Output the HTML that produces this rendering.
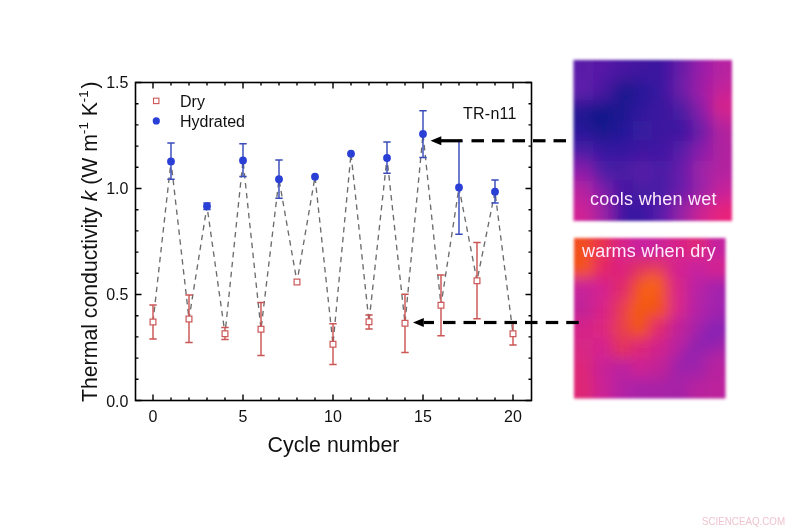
<!DOCTYPE html>
<html><head><meta charset="utf-8"><title>Thermal conductivity vs cycle number</title>
<style>
html,body{margin:0;padding:0;background:#fff}
body{width:800px;height:530px;position:relative;overflow:hidden;font-family:"Liberation Sans",sans-serif;color:#111}
.t{position:absolute;white-space:nowrap;line-height:1}
.tick{font-size:16px}
.ttl{font-size:21.4px}
sup{font-size:62%;vertical-align:baseline;position:relative;top:-0.66em;line-height:0}
.w{color:#fdeafc;font-size:18px}
</style></head><body>
<svg width="800" height="530" viewBox="0 0 800 530" style="position:absolute;left:0;top:0">
<defs>
<filter id="mb" x="-10%" y="-10%" width="120%" height="120%"><feGaussianBlur stdDeviation="6.5"/></filter>
<filter id="mb2" x="-10%" y="-10%" width="120%" height="120%"><feGaussianBlur stdDeviation="8"/></filter>
<filter id="edge" x="-10%" y="-10%" width="120%" height="120%"><feGaussianBlur stdDeviation="1.6"/></filter>
<clipPath id="c1"><rect x="573.5" y="60" width="158.5" height="161"/></clipPath>
<clipPath id="c2"><rect x="574" y="238" width="151.5" height="160.5"/></clipPath>
</defs>
<g filter="url(#edge)"><g clip-path="url(#c1)"><g filter="url(#mb2)"><rect x="543.5" y="30.0" width="50.3" height="50.6" fill="#5a1aa8"/><rect x="593.3" y="30.0" width="20.3" height="50.6" fill="#5518a6"/><rect x="613.1" y="30.0" width="20.3" height="50.6" fill="#4a18a2"/><rect x="632.9" y="30.0" width="20.3" height="50.6" fill="#40189e"/><rect x="652.8" y="30.0" width="20.3" height="50.6" fill="#3a18a0"/><rect x="672.6" y="30.0" width="20.3" height="50.6" fill="#6a1aa8"/><rect x="692.4" y="30.0" width="20.3" height="50.6" fill="#9a1ea8"/><rect x="712.2" y="30.0" width="49.8" height="50.6" fill="#b820a0"/><rect x="543.5" y="80.1" width="50.3" height="20.6" fill="#5e1cac"/><rect x="593.3" y="80.1" width="20.3" height="20.6" fill="#4818a0"/><rect x="613.1" y="80.1" width="20.3" height="20.6" fill="#18148c"/><rect x="632.9" y="80.1" width="20.3" height="20.6" fill="#28169a"/><rect x="652.8" y="80.1" width="20.3" height="20.6" fill="#3a18a0"/><rect x="672.6" y="80.1" width="20.3" height="20.6" fill="#701ca8"/><rect x="692.4" y="80.1" width="20.3" height="20.6" fill="#a01ea6"/><rect x="712.2" y="80.1" width="49.8" height="20.6" fill="#c4209a"/><rect x="543.5" y="100.2" width="50.3" height="20.6" fill="#221692"/><rect x="593.3" y="100.2" width="20.3" height="20.6" fill="#15128a"/><rect x="613.1" y="100.2" width="20.3" height="20.6" fill="#1e1490"/><rect x="632.9" y="100.2" width="20.3" height="20.6" fill="#30189c"/><rect x="652.8" y="100.2" width="20.3" height="20.6" fill="#3a189e"/><rect x="672.6" y="100.2" width="20.3" height="20.6" fill="#4a1aa2"/><rect x="692.4" y="100.2" width="20.3" height="20.6" fill="#8a1ea8"/><rect x="712.2" y="100.2" width="49.8" height="20.6" fill="#d02090"/><rect x="543.5" y="120.4" width="50.3" height="20.6" fill="#28169a"/><rect x="593.3" y="120.4" width="20.3" height="20.6" fill="#16128a"/><rect x="613.1" y="120.4" width="20.3" height="20.6" fill="#24169a"/><rect x="632.9" y="120.4" width="20.3" height="20.6" fill="#381aa0"/><rect x="652.8" y="120.4" width="20.3" height="20.6" fill="#3c18a0"/><rect x="672.6" y="120.4" width="20.3" height="20.6" fill="#3a18a0"/><rect x="692.4" y="120.4" width="20.3" height="20.6" fill="#6a1ca8"/><rect x="712.2" y="120.4" width="49.8" height="20.6" fill="#b4209e"/><rect x="543.5" y="140.5" width="50.3" height="20.6" fill="#4a1aa6"/><rect x="593.3" y="140.5" width="20.3" height="20.6" fill="#3418a0"/><rect x="613.1" y="140.5" width="20.3" height="20.6" fill="#3618a0"/><rect x="632.9" y="140.5" width="20.3" height="20.6" fill="#3c18a0"/><rect x="652.8" y="140.5" width="20.3" height="20.6" fill="#4018a2"/><rect x="672.6" y="140.5" width="20.3" height="20.6" fill="#5a1aa8"/><rect x="692.4" y="140.5" width="20.3" height="20.6" fill="#8a1eaa"/><rect x="712.2" y="140.5" width="49.8" height="20.6" fill="#b0209e"/><rect x="543.5" y="160.6" width="50.3" height="20.6" fill="#8a1eaa"/><rect x="593.3" y="160.6" width="20.3" height="20.6" fill="#4a1aa4"/><rect x="613.1" y="160.6" width="20.3" height="20.6" fill="#4a1aa4"/><rect x="632.9" y="160.6" width="20.3" height="20.6" fill="#5a1ca8"/><rect x="652.8" y="160.6" width="20.3" height="20.6" fill="#4a1aa6"/><rect x="672.6" y="160.6" width="20.3" height="20.6" fill="#6a1caa"/><rect x="692.4" y="160.6" width="20.3" height="20.6" fill="#a020a6"/><rect x="712.2" y="160.6" width="49.8" height="20.6" fill="#b420a0"/><rect x="543.5" y="180.8" width="50.3" height="20.6" fill="#b820a0"/><rect x="593.3" y="180.8" width="20.3" height="20.6" fill="#7a1eaa"/><rect x="613.1" y="180.8" width="20.3" height="20.6" fill="#4418a2"/><rect x="632.9" y="180.8" width="20.3" height="20.6" fill="#4a1aa4"/><rect x="652.8" y="180.8" width="20.3" height="20.6" fill="#4a1aa6"/><rect x="672.6" y="180.8" width="20.3" height="20.6" fill="#6a1caa"/><rect x="692.4" y="180.8" width="20.3" height="20.6" fill="#9a20a8"/><rect x="712.2" y="180.8" width="49.8" height="20.6" fill="#c8209a"/><rect x="543.5" y="200.9" width="50.3" height="50.1" fill="#d02094"/><rect x="593.3" y="200.9" width="20.3" height="50.1" fill="#9a20a6"/><rect x="613.1" y="200.9" width="20.3" height="50.1" fill="#3a18a2"/><rect x="632.9" y="200.9" width="20.3" height="50.1" fill="#3a18a2"/><rect x="652.8" y="200.9" width="20.3" height="50.1" fill="#5a1caa"/><rect x="672.6" y="200.9" width="20.3" height="50.1" fill="#9a20a6"/><rect x="692.4" y="200.9" width="20.3" height="50.1" fill="#d02090"/><rect x="712.2" y="200.9" width="49.8" height="50.1" fill="#e8207a"/><ellipse cx="721" cy="103" rx="6" ry="7" fill="#e8207a"/><ellipse cx="622" cy="88" rx="9" ry="6" fill="#17148a" transform="rotate(-30 622 88)"/><ellipse cx="598" cy="115" rx="12" ry="14" fill="#15128a"/></g></g></g>
<g filter="url(#edge)"><g clip-path="url(#c2)"><g filter="url(#mb)"><rect x="544.0" y="208.0" width="49.4" height="50.6" fill="#f04a20"/><rect x="592.9" y="208.0" width="19.4" height="50.6" fill="#e83050"/><rect x="611.9" y="208.0" width="19.4" height="50.6" fill="#d82488"/><rect x="630.8" y="208.0" width="19.4" height="50.6" fill="#c822a0"/><rect x="649.8" y="208.0" width="19.4" height="50.6" fill="#cc2298"/><rect x="668.7" y="208.0" width="19.4" height="50.6" fill="#d82488"/><rect x="687.6" y="208.0" width="19.4" height="50.6" fill="#e02878"/><rect x="706.6" y="208.0" width="48.9" height="50.6" fill="#c422a0"/><rect x="544.0" y="258.1" width="49.4" height="20.6" fill="#f0501a"/><rect x="592.9" y="258.1" width="19.4" height="20.6" fill="#e42868"/><rect x="611.9" y="258.1" width="19.4" height="20.6" fill="#dc2480"/><rect x="630.8" y="258.1" width="19.4" height="20.6" fill="#e03060"/><rect x="649.8" y="258.1" width="19.4" height="20.6" fill="#e23468"/><rect x="668.7" y="258.1" width="19.4" height="20.6" fill="#d42490"/><rect x="687.6" y="258.1" width="19.4" height="20.6" fill="#c822a0"/><rect x="706.6" y="258.1" width="48.9" height="20.6" fill="#d42490"/><rect x="544.0" y="278.1" width="49.4" height="20.6" fill="#c8229a"/><rect x="592.9" y="278.1" width="19.4" height="20.6" fill="#d42490"/><rect x="611.9" y="278.1" width="19.4" height="20.6" fill="#e02c6c"/><rect x="630.8" y="278.1" width="19.4" height="20.6" fill="#ee4c24"/><rect x="649.8" y="278.1" width="19.4" height="20.6" fill="#f04c20"/><rect x="668.7" y="278.1" width="19.4" height="20.6" fill="#d82688"/><rect x="687.6" y="278.1" width="19.4" height="20.6" fill="#b822a4"/><rect x="706.6" y="278.1" width="48.9" height="20.6" fill="#a422ac"/><rect x="544.0" y="298.2" width="49.4" height="20.6" fill="#c02298"/><rect x="592.9" y="298.2" width="19.4" height="20.6" fill="#d82488"/><rect x="611.9" y="298.2" width="19.4" height="20.6" fill="#e63858"/><rect x="630.8" y="298.2" width="19.4" height="20.6" fill="#f25a18"/><rect x="649.8" y="298.2" width="19.4" height="20.6" fill="#f2501a"/><rect x="668.7" y="298.2" width="19.4" height="20.6" fill="#d82688"/><rect x="687.6" y="298.2" width="19.4" height="20.6" fill="#b422a6"/><rect x="706.6" y="298.2" width="48.9" height="20.6" fill="#a022ae"/><rect x="544.0" y="318.2" width="49.4" height="20.6" fill="#d42488"/><rect x="592.9" y="318.2" width="19.4" height="20.6" fill="#dc2680"/><rect x="611.9" y="318.2" width="19.4" height="20.6" fill="#e63c50"/><rect x="630.8" y="318.2" width="19.4" height="20.6" fill="#ee4824"/><rect x="649.8" y="318.2" width="19.4" height="20.6" fill="#e02c70"/><rect x="668.7" y="318.2" width="19.4" height="20.6" fill="#c02498"/><rect x="687.6" y="318.2" width="19.4" height="20.6" fill="#a822a8"/><rect x="706.6" y="318.2" width="48.9" height="20.6" fill="#9020b0"/><rect x="544.0" y="338.3" width="49.4" height="20.6" fill="#d82684"/><rect x="592.9" y="338.3" width="19.4" height="20.6" fill="#d42490"/><rect x="611.9" y="338.3" width="19.4" height="20.6" fill="#e23060"/><rect x="630.8" y="338.3" width="19.4" height="20.6" fill="#dc2878"/><rect x="649.8" y="338.3" width="19.4" height="20.6" fill="#d0248c"/><rect x="668.7" y="338.3" width="19.4" height="20.6" fill="#b822a0"/><rect x="687.6" y="338.3" width="19.4" height="20.6" fill="#9a20ac"/><rect x="706.6" y="338.3" width="48.9" height="20.6" fill="#a822a6"/><rect x="544.0" y="358.4" width="49.4" height="20.6" fill="#dc2878"/><rect x="592.9" y="358.4" width="19.4" height="20.6" fill="#c82298"/><rect x="611.9" y="358.4" width="19.4" height="20.6" fill="#bc22a0"/><rect x="630.8" y="358.4" width="19.4" height="20.6" fill="#cc2494"/><rect x="649.8" y="358.4" width="19.4" height="20.6" fill="#c02498"/><rect x="668.7" y="358.4" width="19.4" height="20.6" fill="#a422a8"/><rect x="687.6" y="358.4" width="19.4" height="20.6" fill="#a020aa"/><rect x="706.6" y="358.4" width="48.9" height="20.6" fill="#b8229e"/><rect x="544.0" y="378.4" width="49.4" height="50.1" fill="#de2874"/><rect x="592.9" y="378.4" width="19.4" height="50.1" fill="#cc2494"/><rect x="611.9" y="378.4" width="19.4" height="50.1" fill="#b422a4"/><rect x="630.8" y="378.4" width="19.4" height="50.1" fill="#a822a8"/><rect x="649.8" y="378.4" width="19.4" height="50.1" fill="#a822a6"/><rect x="668.7" y="378.4" width="19.4" height="50.1" fill="#a422a8"/><rect x="687.6" y="378.4" width="19.4" height="50.1" fill="#b8229e"/><rect x="706.6" y="378.4" width="48.9" height="50.1" fill="#bc229c"/><ellipse cx="645" cy="300" rx="13" ry="31" fill="#f45a14" transform="rotate(27 645 300)"/><ellipse cx="650" cy="285" rx="10" ry="12" fill="#f6601a"/><ellipse cx="582" cy="258" rx="10" ry="20" fill="#f4521a" transform="rotate(-20 582 258)"/><ellipse cx="640" cy="322" rx="9" ry="14" fill="#f25418" transform="rotate(27 640 322)"/><ellipse cx="712" cy="335" rx="10" ry="14" fill="#8a20b4"/><ellipse cx="690" cy="352" rx="5" ry="22" fill="#9020b0" transform="rotate(35 690 352)"/></g></g></g>
</svg>
<svg width="800" height="530" viewBox="0 0 800 530" style="position:absolute;left:0;top:0">
<path d="M153.00,322.00 L171.00,161.40 L189.00,319.00 L207.00,206.25 L225.00,333.75 L243.00,160.50 L261.00,329.25 L279.00,179.25 L297.00,282.00 L315.00,176.75 L333.00,344.25 L351.00,153.75 L369.00,321.75 L387.00,158.00 L405.00,323.25 L423.00,134.00 L441.00,305.25 L459.00,187.50 L477.00,280.75 L495.00,191.75 L513.00,333.75" fill="none" stroke="#6c6c6c" stroke-width="1.35" stroke-dasharray="5.5 4.5"/>
<rect x="135.5" y="82.5" width="396.0" height="318.0" fill="none" stroke="#000" stroke-width="1.6"/>
<path d="M153.0,400.5v-6M153.0,82.5v6M171.0,400.5v-3M171.0,82.5v3M189.0,400.5v-3M189.0,82.5v3M207.0,400.5v-3M207.0,82.5v3M225.0,400.5v-3M225.0,82.5v3M243.0,400.5v-6M243.0,82.5v6M261.0,400.5v-3M261.0,82.5v3M279.0,400.5v-3M279.0,82.5v3M297.0,400.5v-3M297.0,82.5v3M315.0,400.5v-3M315.0,82.5v3M333.0,400.5v-6M333.0,82.5v6M351.0,400.5v-3M351.0,82.5v3M369.0,400.5v-3M369.0,82.5v3M387.0,400.5v-3M387.0,82.5v3M405.0,400.5v-3M405.0,82.5v3M423.0,400.5v-6M423.0,82.5v6M441.0,400.5v-3M441.0,82.5v3M459.0,400.5v-3M459.0,82.5v3M477.0,400.5v-3M477.0,82.5v3M495.0,400.5v-3M495.0,82.5v3M513.0,400.5v-6M513.0,82.5v6M135.5,400.50h6M531.5,400.50h-6M135.5,379.30h3M531.5,379.30h-3M135.5,358.10h3M531.5,358.10h-3M135.5,336.90h3M531.5,336.90h-3M135.5,315.70h3M531.5,315.70h-3M135.5,294.50h6M531.5,294.50h-6M135.5,273.30h3M531.5,273.30h-3M135.5,252.10h3M531.5,252.10h-3M135.5,230.90h3M531.5,230.90h-3M135.5,209.70h3M531.5,209.70h-3M135.5,188.50h6M531.5,188.50h-6M135.5,167.30h3M531.5,167.30h-3M135.5,146.10h3M531.5,146.10h-3M135.5,124.90h3M531.5,124.90h-3M135.5,103.70h3M531.5,103.70h-3M135.5,82.50h6M531.5,82.50h-6" stroke="#000" stroke-width="1.4" fill="none"/>
<path d="M153.0,305V339M149.3,305h7.4M149.3,339h7.4" stroke="#cc5555" stroke-width="1.45" fill="none"/>
<rect x="150.1" y="319.1" width="5.8" height="5.8" fill="#fff" stroke="#cc5555" stroke-width="1.2"/>
<path d="M189.0,295V342.5M185.3,295h7.4M185.3,342.5h7.4" stroke="#cc5555" stroke-width="1.45" fill="none"/>
<rect x="186.1" y="316.1" width="5.8" height="5.8" fill="#fff" stroke="#cc5555" stroke-width="1.2"/>
<path d="M225.0,327.5V339.5M221.3,327.5h7.4M221.3,339.5h7.4" stroke="#cc5555" stroke-width="1.45" fill="none"/>
<rect x="222.1" y="330.85" width="5.8" height="5.8" fill="#fff" stroke="#cc5555" stroke-width="1.2"/>
<path d="M261.0,302.5V355.5M257.3,302.5h7.4M257.3,355.5h7.4" stroke="#cc5555" stroke-width="1.45" fill="none"/>
<rect x="258.1" y="326.35" width="5.8" height="5.8" fill="#fff" stroke="#cc5555" stroke-width="1.2"/>
<rect x="294.1" y="279.1" width="5.8" height="5.8" fill="#fff" stroke="#cc5555" stroke-width="1.2"/>
<path d="M333.0,323.75V364.5M329.3,323.75h7.4M329.3,364.5h7.4" stroke="#cc5555" stroke-width="1.45" fill="none"/>
<rect x="330.1" y="341.35" width="5.8" height="5.8" fill="#fff" stroke="#cc5555" stroke-width="1.2"/>
<path d="M369.0,315V329M365.3,315h7.4M365.3,329h7.4" stroke="#cc5555" stroke-width="1.45" fill="none"/>
<rect x="366.1" y="318.85" width="5.8" height="5.8" fill="#fff" stroke="#cc5555" stroke-width="1.2"/>
<path d="M405.0,294.25V352.5M401.3,294.25h7.4M401.3,352.5h7.4" stroke="#cc5555" stroke-width="1.45" fill="none"/>
<rect x="402.1" y="320.35" width="5.8" height="5.8" fill="#fff" stroke="#cc5555" stroke-width="1.2"/>
<path d="M441.0,275V335.75M437.3,275h7.4M437.3,335.75h7.4" stroke="#cc5555" stroke-width="1.45" fill="none"/>
<rect x="438.1" y="302.35" width="5.8" height="5.8" fill="#fff" stroke="#cc5555" stroke-width="1.2"/>
<path d="M477.0,242.5V318.75M473.3,242.5h7.4M473.3,318.75h7.4" stroke="#cc5555" stroke-width="1.45" fill="none"/>
<rect x="474.1" y="277.85" width="5.8" height="5.8" fill="#fff" stroke="#cc5555" stroke-width="1.2"/>
<path d="M513.0,322.5V345M509.3,322.5h7.4M509.3,345h7.4" stroke="#cc5555" stroke-width="1.45" fill="none"/>
<rect x="510.1" y="330.85" width="5.8" height="5.8" fill="#fff" stroke="#cc5555" stroke-width="1.2"/>
<path d="M171.0,143V179.3M167.3,143h7.4M167.3,179.3h7.4" stroke="#3a4cba" stroke-width="1.45" fill="none"/>
<circle cx="171.0" cy="161.4" r="3.9" fill="#2a3fd6"/>
<path d="M207.0,203V209.5M203.3,203h7.4M203.3,209.5h7.4" stroke="#3a4cba" stroke-width="1.45" fill="none"/>
<circle cx="207.0" cy="206.25" r="3.9" fill="#2a3fd6"/>
<path d="M243.0,143.75V176.5M239.3,143.75h7.4M239.3,176.5h7.4" stroke="#3a4cba" stroke-width="1.45" fill="none"/>
<circle cx="243.0" cy="160.5" r="3.9" fill="#2a3fd6"/>
<path d="M279.0,160V198.25M275.3,160h7.4M275.3,198.25h7.4" stroke="#3a4cba" stroke-width="1.45" fill="none"/>
<circle cx="279.0" cy="179.25" r="3.9" fill="#2a3fd6"/>
<circle cx="315.0" cy="176.75" r="3.9" fill="#2a3fd6"/>
<circle cx="351.0" cy="153.75" r="3.9" fill="#2a3fd6"/>
<path d="M387.0,142V173.25M383.3,142h7.4M383.3,173.25h7.4" stroke="#3a4cba" stroke-width="1.45" fill="none"/>
<circle cx="387.0" cy="158" r="3.9" fill="#2a3fd6"/>
<path d="M423.0,110.75V157.5M419.3,110.75h7.4M419.3,157.5h7.4" stroke="#3a4cba" stroke-width="1.45" fill="none"/>
<circle cx="423.0" cy="134" r="3.9" fill="#2a3fd6"/>
<path d="M459.0,141V234.25M455.3,141h7.4M455.3,234.25h7.4" stroke="#3a4cba" stroke-width="1.45" fill="none"/>
<circle cx="459.0" cy="187.5" r="3.9" fill="#2a3fd6"/>
<path d="M495.0,180V203M491.3,180h7.4M491.3,203h7.4" stroke="#3a4cba" stroke-width="1.45" fill="none"/>
<circle cx="495.0" cy="191.75" r="3.9" fill="#2a3fd6"/>
<rect x="153.5" y="98.2" width="5.4" height="5.4" fill="#fff" stroke="#cc5555" stroke-width="1.1"/>
<circle cx="156.3" cy="120.9" r="3.6" fill="#2a3fd6"/>
<path d="M430.5,140.75L441.3,136.25V145.25Z" fill="#000"/><rect x="441" y="139.15" width="21.5" height="3.2" fill="#000"/><rect x="471.5" y="139.15" width="12.5" height="3.2" fill="#000"/><rect x="492" y="139.15" width="12.5" height="3.2" fill="#000"/><rect x="512.5" y="139.15" width="12.5" height="3.2" fill="#000"/><rect x="533" y="139.15" width="12.5" height="3.2" fill="#000"/><rect x="553.5" y="139.15" width="12.5" height="3.2" fill="#000"/>
<path d="M413,322.5L423.8,318.0V327.0Z" fill="#000"/><rect x="424" y="320.9" width="10" height="3.2" fill="#000"/><rect x="443" y="320.9" width="12.5" height="3.2" fill="#000"/><rect x="463.5" y="320.9" width="12.5" height="3.2" fill="#000"/><rect x="484" y="320.9" width="12.5" height="3.2" fill="#000"/><rect x="504.5" y="320.9" width="12.5" height="3.2" fill="#000"/><rect x="525" y="320.9" width="12.5" height="3.2" fill="#000"/><rect x="545.75" y="320.9" width="12.5" height="3.2" fill="#000"/><rect x="566.25" y="320.9" width="12.5" height="3.2" fill="#000"/>
</svg>
<div style="position:absolute;left:0;top:0;width:800px;height:530px;will-change:transform">
<div class="t tick" style="left:105.4px;top:75px;width:23px;text-align:right">1.5</div>
<div class="t tick" style="left:105.4px;top:181px;width:23px;text-align:right">1.0</div>
<div class="t tick" style="left:105.4px;top:287px;width:23px;text-align:right">0.5</div>
<div class="t tick" style="left:105.4px;top:393.5px;width:23px;text-align:right">0.0</div>
<div class="t tick" style="left:133px;top:409px;width:40px;text-align:center">0</div>
<div class="t tick" style="left:223px;top:409px;width:40px;text-align:center">5</div>
<div class="t tick" style="left:313px;top:409px;width:40px;text-align:center">10</div>
<div class="t tick" style="left:403px;top:409px;width:40px;text-align:center">15</div>
<div class="t tick" style="left:493px;top:409px;width:40px;text-align:center">20</div>
<div class="t ttl" style="left:267.5px;top:434.5px">Cycle number</div>
<div class="t ttl" id="yt" style="left:100.8px;top:402.4px;font-size:21.25px;transform-origin:0 0;transform:rotate(-90deg) translateY(-100%)">Thermal conductivity <i>k</i> (W m<sup>-1</sup> K<sup>-1</sup><span style="margin-left:2px">)</span></div>
<div class="t tick" style="left:180px;top:94px">Dry</div>
<div class="t tick" style="left:180px;top:114px">Hydrated</div>
<div class="t tick" style="left:463px;top:106px;letter-spacing:0.25px">TR-n11</div>
<div class="t w" style="left:590px;top:190.2px;letter-spacing:0.27px">cools when wet</div>
<div class="t w" style="left:582px;top:242.3px;letter-spacing:0.2px">warms when dry</div>
<div class="t" style="left:702px;top:516px;font-size:11.5px;color:#efc4cf;transform-origin:0 0;transform:scaleX(0.85)">SCIENCEAQ.COM</div>
</div>
</body></html>
